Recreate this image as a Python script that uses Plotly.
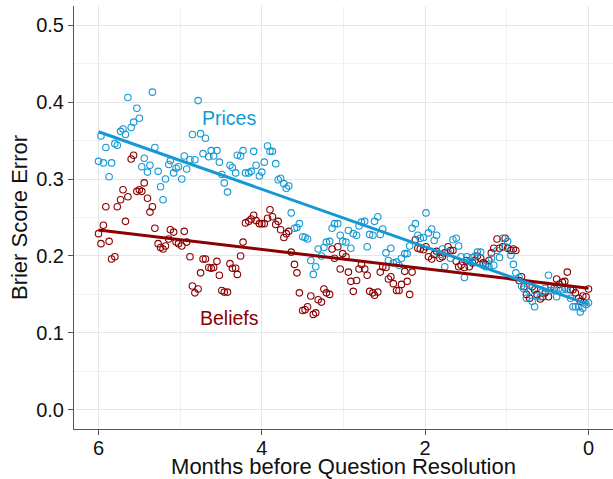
import numpy as np
import plotly.graph_objects as go

months = [6.00,5.97,5.94,5.91,5.87,5.84,5.80,5.77,5.73,5.70,5.67,5.64,5.60,5.57,5.53,5.50,5.47,5.44,5.40,5.37,5.34,5.31,5.27,5.24,5.21,5.18,5.14,5.12,5.08,5.05,5.02,4.98,4.95,4.92,4.88,4.85,4.82,4.78,4.75,4.72,4.69,4.65,4.62,4.59,4.55,4.52,4.49,4.46,4.42,4.39,4.36,4.32,4.30,4.26,4.23,4.20,4.16,4.13,4.10,4.07,4.03,4.00,3.97,3.93,3.90,3.87,3.83,3.80,3.77,3.73,3.70,3.67,3.64,3.60,3.57,3.54,3.50,3.47,3.44,3.40,3.37,3.34,3.31,3.27,3.24,3.21,3.17,3.14,3.11,3.07,3.04,3.01,2.97,2.94,2.91,2.88,2.84,2.81,2.78,2.74,2.71,2.68,2.64,2.62,2.58,2.55,2.52,2.48,2.45,2.42,2.39,2.35,2.32,2.29,2.25,2.22,2.19,2.16,2.12,2.09,2.06,2.02,1.99,1.96,1.92,1.89,1.86,1.82,1.79,1.76,1.72,1.69,1.66,1.62,1.59,1.56,1.52,1.49,1.46,1.42,1.39,1.36,1.32,1.29,1.26,1.22,1.19,1.16,1.12,1.09,1.05,1.02,0.99,0.95,0.92,0.89,0.85,0.82,0.79,0.76,0.72,0.69,0.66,0.63,0.59,0.56,0.53,0.49,0.46,0.42,0.39,0.36,0.32,0.29,0.26,0.22,0.19,0.16,0.12,0.10,0.07,0.03,0.00]

prices = [0.323,0.356,0.321,0.341,0.303,0.321,0.346,0.344,0.362,0.365,0.358,0.406,0.367,0.374,0.392,0.379,0.316,0.327,0.309,0.318,0.413,0.341,0.310,0.290,0.273,0.300,0.319,0.324,0.308,0.314,0.316,0.300,0.330,0.313,0.325,0.358,0.325,0.402,0.359,0.333,0.353,0.329,0.337,0.330,0.337,0.322,0.306,0.295,0.283,0.318,0.315,0.308,0.331,0.330,0.337,0.308,0.308,0.310,0.336,0.318,0.304,0.309,0.322,0.343,0.336,0.336,0.320,0.299,0.301,0.294,0.288,0.291,0.256,0.236,0.237,0.242,0.225,0.224,0.222,0.194,0.176,0.186,0.209,0.200,0.211,0.218,0.219,0.236,0.242,0.242,0.227,0.219,0.218,0.233,0.210,0.229,0.227,0.239,0.244,0.245,0.212,0.228,0.227,0.245,0.251,0.228,0.235,0.204,0.194,0.210,0.191,0.192,0.188,0.197,0.203,0.203,0.213,0.236,0.242,0.227,0.223,0.224,0.256,0.230,0.235,0.220,0.227,0.202,0.209,0.186,0.205,0.197,0.221,0.223,0.213,0.199,0.172,0.199,0.193,0.198,0.200,0.205,0.205,0.188,0.186,0.187,0.197,0.188,0.207,0.198,0.223,0.212,0.219,0.201,0.189,0.178,0.172,0.161,0.157,0.145,0.154,0.141,0.134,0.148,0.147,0.154,0.158,0.175,0.155,0.158,0.147,0.158,0.156,0.158,0.156,0.145,0.134,0.134,0.134,0.127,0.132,0.137,0.139]

beliefs = [0.229,0.216,0.240,0.264,0.219,0.196,0.199,0.264,0.273,0.286,0.245,0.277,0.326,0.331,0.284,0.286,0.284,0.295,0.275,0.257,0.264,0.236,0.216,0.211,0.209,0.213,0.222,0.234,0.231,0.218,0.216,0.213,0.232,0.218,0.199,0.161,0.152,0.157,0.178,0.196,0.196,0.185,0.184,0.185,0.193,0.175,0.155,0.153,0.153,0.190,0.184,0.184,0.176,0.200,0.218,0.243,0.245,0.248,0.253,0.246,0.242,0.242,0.242,0.249,0.260,0.251,0.241,0.245,0.234,0.224,0.229,0.232,0.205,0.189,0.178,0.152,0.129,0.130,0.134,0.148,0.124,0.126,0.143,0.140,0.157,0.152,0.150,0.209,0.197,0.212,0.183,0.203,0.199,0.179,0.167,0.154,0.168,0.183,0.189,0.183,0.175,0.154,0.152,0.149,0.153,0.179,0.186,0.185,0.170,0.173,0.164,0.155,0.155,0.163,0.180,0.167,0.150,0.179,0.221,0.210,0.209,0.208,0.212,0.199,0.196,0.202,0.206,0.197,0.199,0.204,0.212,0.207,0.207,0.193,0.186,0.188,0.185,0.194,0.186,0.191,0.194,0.200,0.197,0.191,0.189,0.194,0.204,0.210,0.222,0.210,0.212,0.223,0.210,0.207,0.209,0.207,0.168,0.173,0.160,0.150,0.145,0.160,0.156,0.150,0.144,0.147,0.152,0.147,0.160,0.158,0.170,0.163,0.166,0.167,0.179,0.156,0.156,0.152,0.145,0.141,0.148,0.147,0.157]

assert len(months) == len(prices) == len(beliefs), (len(months), len(prices), len(beliefs))

x_ticks = [6, 4, 2, 0]
y_ticks = [0.0, 0.1, 0.2, 0.3, 0.4, 0.5]

BLUE = "#1499d4"
RED = "#8B0000"
FONT = "Liberation Sans, Arial, sans-serif"
TXT = "#111111"

mx = np.array(months)
pfit = np.polyfit(mx, np.array(prices), 1)
bfit = np.polyfit(mx, np.array(beliefs), 1)
line_x = np.array([max(months), min(months)])

fig = go.Figure()
fig.add_trace(go.Scatter(x=months, y=beliefs, mode="markers",
                         marker=dict(symbol="circle-open", size=6.5, color=RED, line=dict(width=1.1, color=RED)),
                         showlegend=False, hoverinfo="skip"))
fig.add_trace(go.Scatter(x=months, y=prices, mode="markers",
                         marker=dict(symbol="circle-open", size=6.5, color=BLUE, line=dict(width=1.1, color=BLUE)),
                         showlegend=False, hoverinfo="skip"))
fig.add_trace(go.Scatter(x=line_x, y=np.polyval(bfit, line_x), mode="lines",
                         line=dict(color=RED, width=3), showlegend=False, hoverinfo="skip"))
fig.add_trace(go.Scatter(x=line_x, y=np.polyval(pfit, line_x), mode="lines",
                         line=dict(color=BLUE, width=3), showlegend=False, hoverinfo="skip"))

fig.add_annotation(x=4.40, y=0.379, text="Prices", showarrow=False,
                   font=dict(family=FONT, size=19.5, color=BLUE))
fig.add_annotation(x=4.40, y=0.119, text="Beliefs", showarrow=False,
                   font=dict(family=FONT, size=19.5, color=RED))

fig.update_layout(
    width=613, height=479,
    margin=dict(l=74, r=0, t=6, b=50),
    paper_bgcolor="white", plot_bgcolor="white",
    font=dict(family=FONT, color=TXT),
    xaxis=dict(range=[6.3, -0.3], tickvals=x_ticks, ticktext=[str(v) for v in x_ticks],
               automargin=False,
               showgrid=True, gridcolor="#e6e6e6", gridwidth=1,
               minor=dict(dtick=1, showgrid=True, gridcolor="#f2f2f2", gridwidth=0.6),
               zeroline=False, showline=True, linecolor="#555555", linewidth=1,
               ticks="outside", ticklen=5, tickcolor="#555555",
               ticklabelstandoff=-4,
               tickfont=dict(family=FONT, size=20, color=TXT),
               title=dict(text="Months before Question Resolution", standoff=2,
                          font=dict(family=FONT, size=22, color=TXT))),
    yaxis=dict(range=[-0.025, 0.525], tickvals=y_ticks, ticktext=[f"{v:.1f}" for v in y_ticks],
               automargin=False,
               showgrid=True, gridcolor="#e6e6e6", gridwidth=1,
               minor=dict(dtick=0.05, tick0=0, showgrid=True, gridcolor="#f2f2f2", gridwidth=0.6),
               zeroline=False, showline=True, linecolor="#555555", linewidth=1,
               ticks="outside", ticklen=5, tickcolor="#555555",
               tickfont=dict(family=FONT, size=20, color=TXT),
               title=dict(text="Brier Score Error", standoff=2,
                          font=dict(family=FONT, size=22, color=TXT))),
)

fig.write_html("out.html", config={"displayModeBar": False},
               post_script="document.body.style.margin='0';document.body.style.overflow='hidden';")
